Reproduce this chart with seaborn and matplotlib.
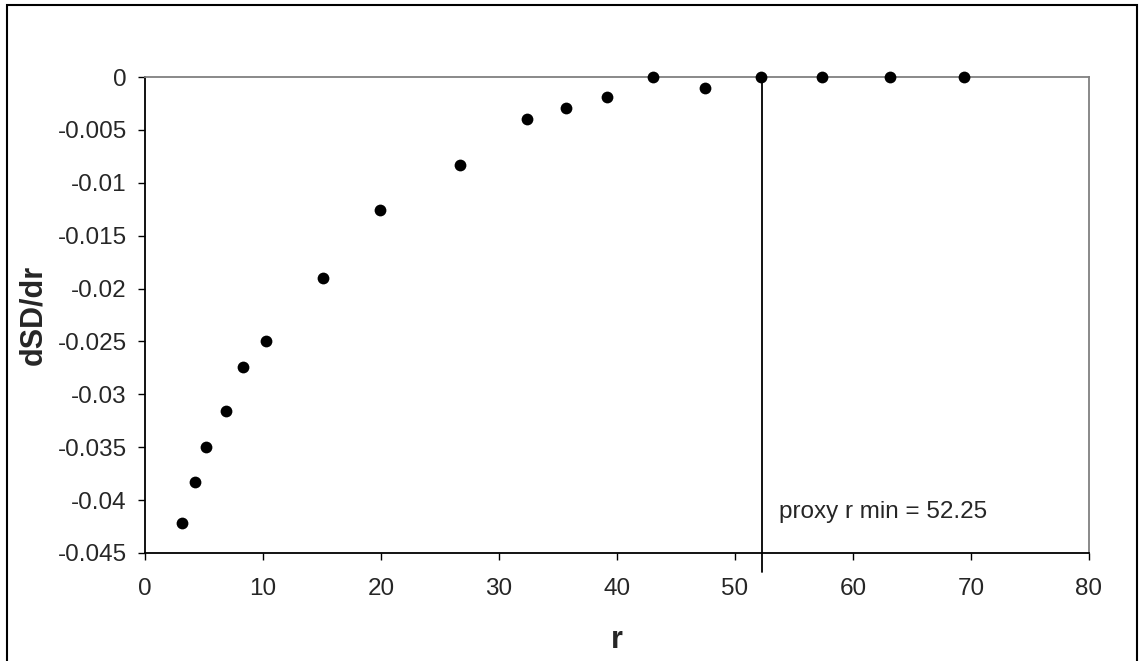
import pandas as pd
import matplotlib
matplotlib.use("Agg")
import matplotlib.pyplot as plt
import seaborn as sns
from matplotlib.patches import Rectangle

# Giá trị
r_values = [3.14, 4.27, 5.2, 6.89, 8.33, 10.23, 15.08, 19.94, 26.69, 32.34,
            35.68, 39.12, 43.08, 47.46, 52.17, 57.35, 63.14, 69.43]
dsd_dr = [-0.0422, -0.0383, -0.0350, -0.0316, -0.02745, -0.0250, -0.0190,
          -0.01257, -0.00835, -0.0040, -0.00293, -0.00186, 0.0, -0.00101,
          0.0, 0.0, 0.0, 0.0]
r_min = 52.25
x_ticks = [0, 10, 20, 30, 40, 50, 60, 70, 80]
y_ticks = [0, -0.005, -0.01, -0.015, -0.02, -0.025, -0.03, -0.035, -0.04, -0.045]
y_tick_labels = ['0', '-0.005', '-0.01', '-0.015', '-0.02', '-0.025', '-0.03',
                 '-0.035', '-0.04', '-0.045']

df = pd.DataFrame({'r': r_values, 'dSD/dr': dsd_dr})

sns.set_theme(style="ticks")
plt.rcParams['font.family'] = ['Liberation Sans', 'DejaVu Sans']

fig = plt.figure(figsize=(11.39, 6.61), dpi=100)
ax = fig.add_axes([0.1273, 0.1634, 0.8288, 0.7201])

sns.scatterplot(data=df, x='r', y='dSD/dr', ax=ax, color='black', s=72,
                edgecolor='black', linewidth=0, zorder=5, clip_on=False)

# Đường dọc tại r min
ax.plot([r_min, r_min], [0, -0.0468], color='black', linewidth=1.3, clip_on=False, zorder=4)
ax.text(53.7, -0.0411, f'proxy r min = {r_min}', fontsize=17.5, va='center', ha='left')

ax.set_xlim(0, 80)
ax.set_ylim(-0.045, 0)
ax.set_xticks(x_ticks)
ax.set_yticks(y_ticks)
ax.set_yticklabels(y_tick_labels)
ax.tick_params(axis='both', labelsize=17.5, length=5, width=1, color='black', direction='out')
ax.tick_params(axis='x', pad=13)
ax.tick_params(axis='y', pad=8)

ax.set_xlabel('r', fontsize=22, fontweight='bold', labelpad=18)
ax.set_ylabel('dSD/dr', fontsize=22, fontweight='bold', labelpad=7)

for side in ['left', 'bottom']:
    ax.spines[side].set_color('black')
    ax.spines[side].set_linewidth(1.3)
for side in ['top', 'right']:
    ax.spines[side].set_visible(True)
    ax.spines[side].set_color('#808080')
    ax.spines[side].set_linewidth(1.3)

# Khung viền ngoài
fig.patches.append(Rectangle((0.0061, -0.01), 0.9921, 1.0024, transform=fig.transFigure,
                             fill=False, edgecolor='black', linewidth=1.5))

fig.savefig('out.png', dpi=100)
plt.close(fig)
